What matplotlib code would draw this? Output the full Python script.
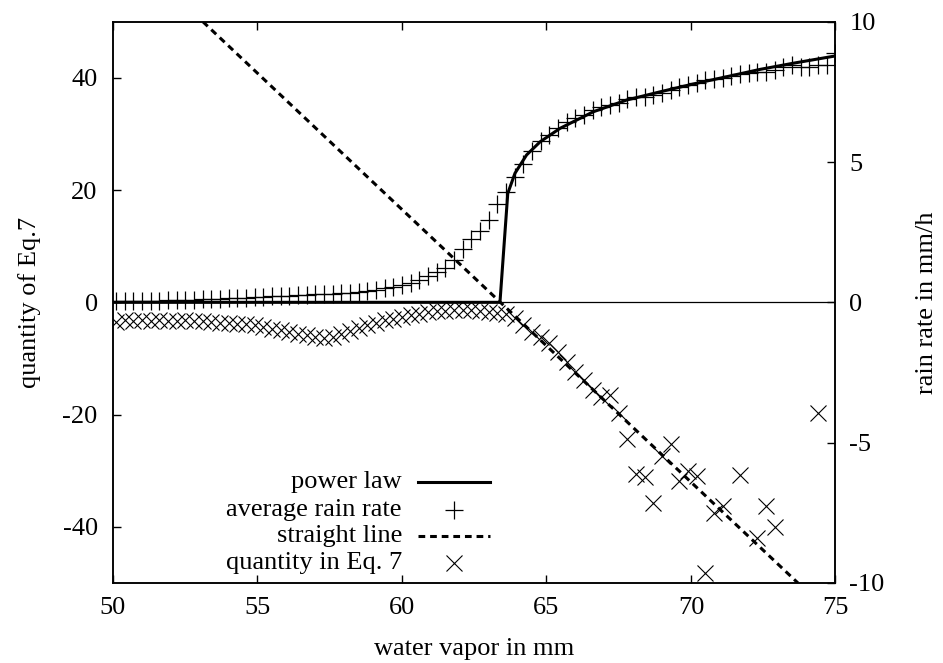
import matplotlib
matplotlib.use('Agg')
import numpy as np
import matplotlib.pyplot as plt

# water vapor bins (mm)
wv = [50.1, 50.4, 50.7, 51.0, 51.3, 51.6, 51.9, 52.2, 52.5, 52.8,
      53.1, 53.4, 53.7, 54.0, 54.3, 54.6, 54.9, 55.2, 55.5, 55.8,
      56.1, 56.4, 56.7, 57.0, 57.3, 57.6, 57.9, 58.2, 58.5, 58.8,
      59.1, 59.4, 59.7, 60.0, 60.3, 60.6, 60.9, 61.2, 61.5, 61.8,
      62.1, 62.4, 62.7, 63.0, 63.3, 63.6, 63.9, 64.2, 64.5, 64.8,
      65.1, 65.4, 65.7, 66.0, 66.3, 66.6, 66.9, 67.2, 67.5, 67.8,
      68.1, 68.4, 68.7, 69.0, 69.3, 69.6, 69.9, 70.2, 70.5, 70.8,
      71.1, 71.4, 71.7, 72.0, 72.3, 72.6, 72.9, 73.2, 73.5, 73.8,
      74.1, 74.4, 74.7, 75.0]

# average rain rate (mm/h, right axis)
rain = [0.04, 0.04, 0.05, 0.05, 0.06, 0.06, 0.07, 0.08, 0.09, 0.10,
        0.11, 0.12, 0.13, 0.14, 0.15, 0.17, 0.18, 0.19, 0.21, 0.22,
        0.24, 0.26, 0.27, 0.28, 0.30, 0.31, 0.33, 0.35, 0.37, 0.40,
        0.45, 0.50, 0.56, 0.62, 0.70, 0.80, 0.95, 1.08, 1.22, 1.50,
        1.90, 2.24, 2.54, 2.92, 3.50, 3.92, 4.46, 4.94, 5.40, 5.75,
        5.96, 6.20, 6.42, 6.56, 6.67, 6.85, 6.97, 7.03, 7.12, 7.25,
        7.30, 7.33, 7.39, 7.45, 7.57, 7.66, 7.74, 7.80, 7.92, 7.96,
        7.98, 8.06, 8.12, 8.16, 8.22, 8.22, 8.28, 8.40, 8.46, 8.40,
        8.40, 8.46, 8.46, 8.88]

nan = np.nan
# quantity in Eq. 7 (left axis)
quantity = [-3.5, -3.2, -3.4, -3.2, -3.3, -3.2, -3.4, -3.3, -3.2, -3.4,
            -3.4, -3.5, -3.6, -3.7, -3.8, -3.9, -4.1, -4.4, -4.7, -5.0,
            -5.3, -5.6, -5.9, -6.2, -6.3, -6.1, -5.7, -5.1, -4.5, -4.0,
            -3.6, -3.2, -2.9, -2.6, -2.3, -2.0, -1.8, -1.6, -1.5, -1.4,
            -1.4, -1.4, -1.5, -1.7, -1.9, -2.0, -2.85, -4.0, -5.2, -6.1,
            -7.3, -8.8, -10.6, -12.4, -13.8, -15.6, -16.8, -16.5, -19.7, -24.3,
            -30.6, -31.2, -35.7, -27.3, -25.2, -31.8, -30.0, -30.9, -48.3, -37.5,
            -36.3, nan, -30.7, nan, -41.9, -36.2, -40.1, nan, nan, nan,
            nan, -19.8, nan, nan]

# power law curve (mm/h, right axis)
pl_x = [50.0, 63.39, 63.66, 63.91, 64.31, 64.78, 65.47, 66.62, 67.78,
        68.93, 70.08, 71.24, 72.39, 73.54, 75.0]
pl_y = [0.0, 0.0, 3.88, 4.60, 5.25, 5.72, 6.20, 6.79, 7.21,
        7.50, 7.78, 8.04, 8.30, 8.52, 8.78]

# straight line (left axis)
line_x = [53.11, 73.70]
line_y = [50, -50]

plt.rcParams['font.family'] = ['Liberation Serif', 'DejaVu Serif']
plt.rcParams['font.size'] = 19
plt.rcParams['axes.unicode_minus'] = False

fig = plt.figure(figsize=(9.43, 6.63), dpi=100)
ax = fig.add_axes([0.1198, 0.1207, 0.7662, 0.8466])
ax2 = ax.twinx()

ax.set_xlim(50, 75)
ax.set_ylim(-50, 50)
ax2.set_ylim(-10, 10)

ax.axhline(0, color='k', lw=0.9)
ax.plot(line_x, line_y, color='k', lw=2.2, dashes=(2.2, 1.6))
ax.plot(wv, quantity, ls='none', marker='x', ms=12, mew=0.8, color='k')
ax2.plot(wv, rain, ls='none', marker='+', ms=13, mew=0.9, color='k')
ax2.plot(pl_x, pl_y, color='k', lw=2.2)

ax.set_xticks([50, 55, 60, 65, 70, 75])
ax.set_yticks([-40, -20, 0, 20, 40])
ax2.set_yticks([-10, -5, 0, 5, 10])
ax.tick_params(direction='in', length=6, width=1, top=True, right=False, pad=10)
ax.tick_params(axis='y', pad=11)
ax2.tick_params(direction='in', length=6, width=1, pad=10)
for a in (ax, ax2):
    for s in a.spines.values():
        s.set_linewidth(1.1)

ax.set_xlabel('water vapor in mm')
ax.set_ylabel('quantity of Eq.7')
ax2.set_ylabel('rain rate in mm/h', rotation=90)
ax.xaxis.set_label_coords(0.5, -0.098)
ax.yaxis.set_label_coords(-0.100, 0.5)
ax2.yaxis.set_label_coords(1.112, 0.5)

# legend, text right aligned with sample on the right
tr = ax2.transAxes
rows_y = [0.180, 0.130, 0.083, 0.035]
labels = ['power law', 'average rain rate', 'straight line', 'quantity in Eq. 7']
for yy, lab in zip(rows_y, labels):
    ax2.text(0.400, yy, lab, transform=tr, ha='right', va='center')
ax2.plot([0.422, 0.522], [rows_y[0]] * 2, transform=tr, color='k', lw=2.2)
ax2.plot([0.472], [rows_y[1]], transform=tr, ls='none', marker='+', ms=13, mew=0.9, color='k')
ax2.plot([0.422, 0.522], [rows_y[2]] * 2, transform=tr, color='k', lw=2.2, dashes=(2.2, 1.6))
ax2.plot([0.472], [rows_y[3]], transform=tr, ls='none', marker='x', ms=12, mew=0.8, color='k')

fig.savefig('out.png', dpi=100)
